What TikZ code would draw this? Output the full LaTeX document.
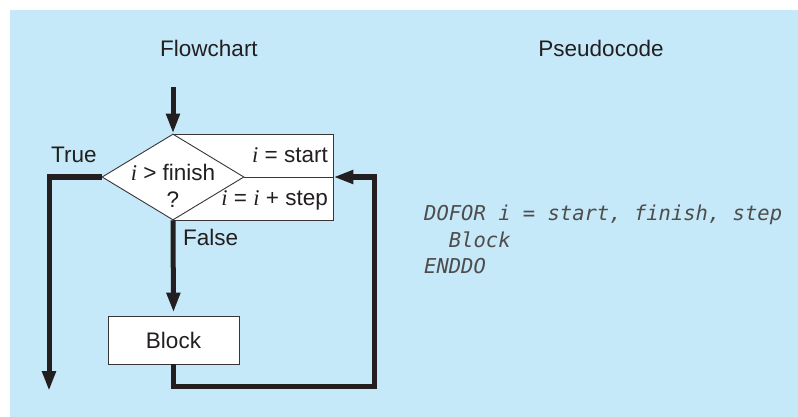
\documentclass[tikz,border=0pt]{standalone}
\usepackage{fontspec}
\setmainfont{Liberation Sans}
\newfontfamily\varfont{Liberation Serif}
\newfontfamily\codefont{DejaVu Sans Mono}
\usetikzlibrary{shapes.geometric,arrows.meta}
\definecolor{panelblue}{HTML}{C5E9F8}
\definecolor{ink}{HTML}{231F20}
\newcommand{\iv}{{\varfont\itshape i}}

\begin{document}
\begin{tikzpicture}[x=1pt,y=-1pt,
		lbl/.style={text=ink,inner sep=0pt,font=\fontsize{22.5}{26}\selectfont},
		code/.style={text=ink!80,inner sep=0pt,anchor=base west,font=\codefont\itshape\fontsize{20.5}{25}\selectfont},
		outline/.style={draw=ink!90,line width=0.9pt,fill=white},
		flow/.style={draw=ink,line width=5pt,line join=miter,-{Triangle[length=20pt,width=13pt]}}]
		% Background panel
		\useasboundingbox (0,0) rectangle (798,417);
		\fill[panelblue] (10,10) rectangle (798,417);

		% Headings
		\node[lbl,anchor=base] (fchead) at (209,57) {Flowchart};
		\node[lbl,anchor=base] (pchead) at (601,57) {Pseudocode};

		% Loop box and decision
		\node[outline,rectangle,minimum width=160pt,minimum height=86pt,inner sep=0pt] (init) at (253,177) {};
		\node[outline,diamond,minimum width=142pt,minimum height=86pt,inner sep=0pt] (test) at (173,177) {};
		\draw[outline,fill=none] (test.east) -- (init.east);

		% Texts in the loop box
		\node[lbl,anchor=base east] (startlbl) at (328,163) {\iv\ = start};
		\node[lbl,anchor=base east] (steplbl) at (328,205) {\iv\ = \iv\ + step};
		\node[lbl,anchor=base] (cond) at (173,180) {\iv\ > finish};
		\node[lbl,anchor=base] (qmark) at (173,207) {?};

		% Block
		\node[outline,lbl,minimum width=131pt,minimum height=48pt] (block) at (173.5,340) {Block};

		% Flow lines
		\coordinate (entry) at (173,87);
		\coordinate (exit) at (49,391);
		\coordinate (loopcorner) at (374,386);
		\draw[flow] (entry) -- (test.north);
		\draw[flow] (test.west) -| (exit);
		\draw[flow,shorten >=3pt] (test.south) -- (block.north);
		\draw[flow] (block.south) |- (loopcorner) |- (init.east);

		% Branch labels
		\node[lbl,anchor=base west] (truelbl) at (51,163) {True};
		\node[lbl,anchor=base west] (falselbl) at (183,245) {False};

		% Pseudocode
		\node[code] (code1) at (424,220) {DOFOR i = start, finish, step};
		\node[code] (code2) at (448.7,247) {Block};
		\node[code] (code3) at (424,273) {ENDDO};

	\end{tikzpicture}
\end{document}
